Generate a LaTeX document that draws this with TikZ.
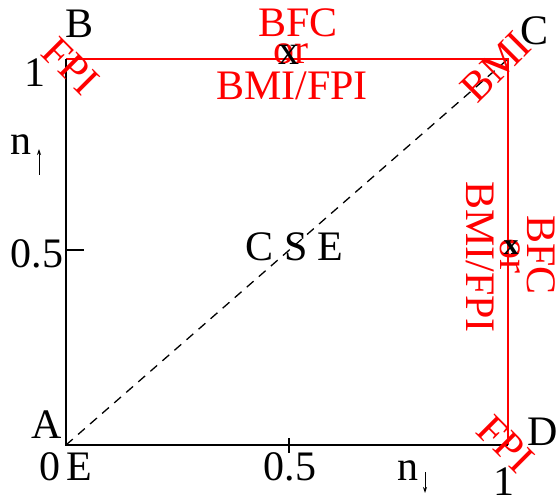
\documentclass[tikz,border=0pt]{standalone}
\usepackage{fontspec}
\setmainfont{Liberation Serif}
\usetikzlibrary{arrows.meta}
\begin{document}
\begin{tikzpicture}[x=1pt,y=-1pt,
  every node/.style={inner sep=0pt, font=\fontsize{42}{50}\selectfont},
  lab/.style={anchor=base},
  redlab/.style={text=red},
  axisline/.style={line width=1.6pt, black},
  redline/.style={line width=1.6pt, red},
  diag/.style={line width=1.3pt, black, dash pattern=on 9pt off 7pt},
  tickline/.style={line width=1.4pt, black},
  spinarrow/.style={line width=0.9pt, -{Stealth[length=6pt,width=4pt]}}]
\useasboundingbox (0,0) rectangle (557,500);
% corners
\coordinate (A) at (66,445);
\coordinate (B) at (66,59);
\coordinate (C) at (508,59);
\coordinate (D) at (508,445);
% frame
\draw[redline] (B) -- (C) -- (D);
\draw[axisline] (B) -- (A) -- (D);
\draw[diag] (A) -- (C);
% ticks
\coordinate (ty1) at (66,250);
\coordinate (ty2) at (84,250);
\coordinate (tx1) at (289,438);
\coordinate (tx2) at (289,453);
\draw[tickline] (ty1) -- (ty2);
\draw[tickline] (tx1) -- (tx2);
% black corner labels
\node[lab] (labB) at (79.5,38) {B};
\node[lab] (labC) at (535,45) {C};
\node[lab] (labA) at (46.5,438) {A};
\node[lab] (labD) at (543,445) {D};
% axis labels
\node[lab] (one1) at (35,87) {1};
\node[lab] (half1) at (37,267) {0.5};
\node[lab] (zero) at (50,480) {0};
\node[lab] (labE) at (79,480) {E};
\node[lab] (half2) at (290,480) {0.5};
\node[lab] (one2) at (504,495) {1};
\node[lab] (nup) at (21,155) {n};
\node[lab] (ndown) at (407.5,480) {n};
\coordinate (upa) at (39,175);
\coordinate (upb) at (39,149);
\coordinate (dna) at (425,472);
\coordinate (dnb) at (425,493);
\draw[spinarrow] (upa) -- (upb);
\draw[spinarrow] (dna) -- (dnb);
% center
\node[lab] (cse) at (294.5,260) {C S E};
% top edge labels
\node[lab, redlab] (bfcT) at (298,37) {BFC};
\node[lab, redlab] (orT) at (291,64) {or};
\node[lab, redlab] (bmifpiT) at (292,100) {BMI/FPI};
\node (xT) at (289,55) {x};
% right edge labels
\node[redlab, rotate=-90] (bfcR) at (541,255) {BFC};
\node[redlab, rotate=-90] (orR) at (510,256) {or};
\node[redlab, rotate=-90] (bmifpiR) at (480,257) {BMI/FPI};
\node[font=\fontsize{30}{36}\selectfont\bfseries] (xR) at (511,248) {x};
% corner rotated labels
\node[redlab, rotate=-45] (fpiB) at (71,66) {FPI};
\node[redlab, rotate=45] (bmiC) at (496,67) {BMI};
\node[redlab, rotate=-45] (fpiD) at (506,444) {FPI};
\end{tikzpicture}
\end{document}
